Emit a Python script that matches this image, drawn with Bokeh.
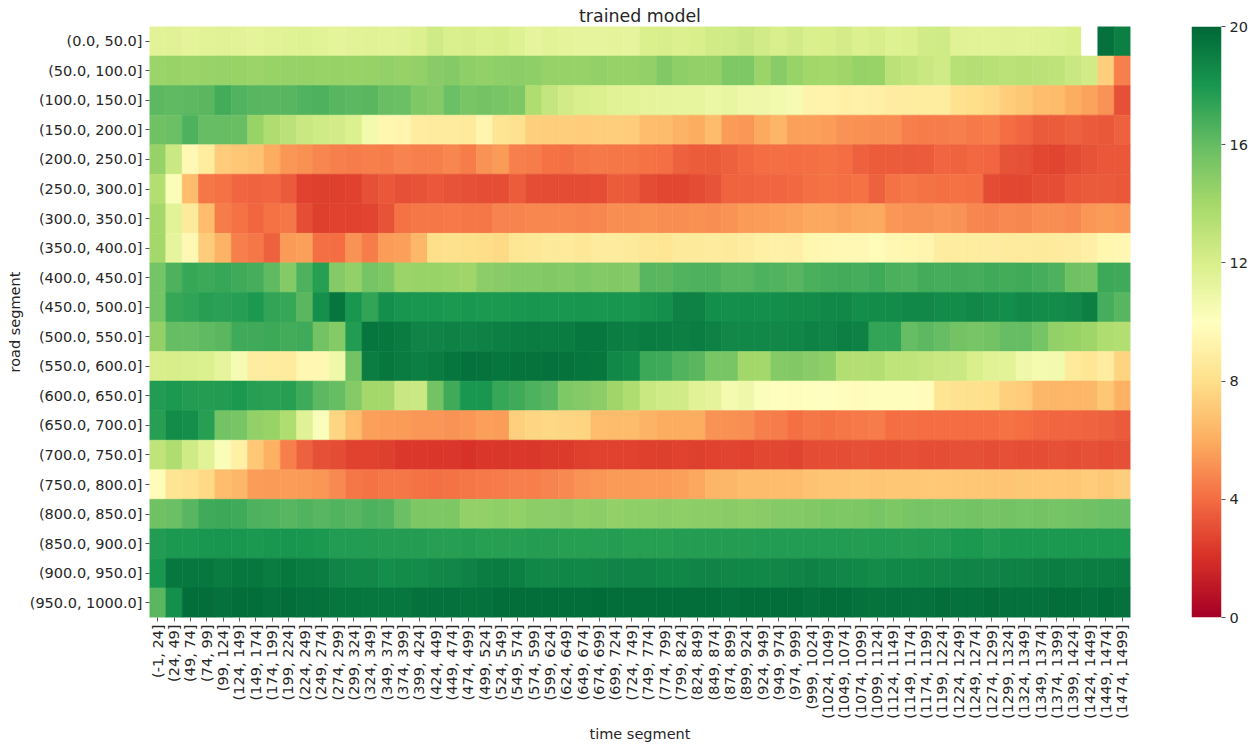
import math
import numpy as np
from bokeh.plotting import figure
from bokeh.layouts import row
from bokeh.models import ColumnDataSource, LinearColorMapper, FixedTicker
from bokeh.transform import transform
from bokeh.embed import file_html
from bokeh.resources import INLINE

# Row categories (road segments) and column categories (time segments)
road_segments = [f"({lo:.1f}, {lo + 50:.1f}]" for lo in range(0, 1000, 50)]
time_segments = [f"({lo}, {lo + 25}]" for lo in range(-1, 1475, 25)]

colorbar_ticks = [0, 4, 8, 12, 16, 20]

# Mean speed per time segment, one list per road segment
seg_0_50 = [11.5, 11.6, 11.4, 11.5, 11.6, 11.5, 11.4, 11.5, 11.6, 11.7, 11.5, 11.4, 11.5, 11.6, 11.5, 11.6, 11.8, 12.4, 11.9, 12.1,
            11.8, 12.0, 11.7, 11.3, 11.5, 11.4, 11.3, 11.3, 11.4, 11.3, 11.9, 12.1, 11.8, 12.0, 12.3, 12.4, 12.6, 12.3, 12.0, 12.3,
            11.9, 12.0, 12.2, 11.8, 12.1, 11.7, 11.8, 12.3, 12.4, 11.6, 11.5, 11.5, 11.6, 11.5, 11.6, 11.7, 11.9, float("nan"), 19.6, 19.0]
seg_50_100 = [14.3, 14.4, 14.3, 14.4, 14.5, 14.4, 14.3, 14.4, 14.5, 14.5, 14.4, 14.5, 14.4, 14.5, 14.6, 14.5, 14.6, 14.9, 15.0, 14.7,
              14.6, 14.7, 14.8, 14.7, 14.5, 14.5, 14.5, 14.6, 14.5, 14.5, 14.6, 15.1, 14.7, 14.6, 14.6, 15.2, 15.2, 14.3, 14.9, 14.4,
              14.1, 14.0, 14.2, 14.5, 14.4, 13.2, 12.9, 12.6, 12.4, 13.3, 13.4, 13.3, 13.2, 13.3, 13.2, 13.1, 12.6, 12.3, 7.3, 4.6]
seg_100_150 = [16.2, 16.1, 16.2, 16.3, 16.9, 16.5, 16.4, 16.3, 16.4, 16.5, 16.6, 16.4, 16.2, 16.3, 15.9, 15.8, 15.2, 15.0, 15.8, 15.4,
               15.6, 15.4, 15.3, 13.6, 12.8, 12.3, 12.0, 11.8, 11.6, 11.5, 11.4, 11.3, 11.2, 11.2, 11.0, 11.1, 10.9, 10.8, 10.7, 10.5,
               9.2, 9.2, 9.0, 9.1, 9.0, 8.9, 8.9, 8.8, 8.8, 8.2, 8.0, 7.8, 7.3, 7.0, 6.6, 6.5, 6.0, 5.7, 5.2, 3.1]
seg_150_200 = [15.7, 15.8, 16.6, 16.0, 16.0, 15.9, 14.4, 13.6, 13.2, 12.6, 12.4, 12.2, 11.8, 10.7, 9.4, 9.3, 8.9, 8.7, 8.7, 8.6,
               9.3, 8.3, 8.2, 7.4, 7.3, 7.3, 7.2, 7.3, 7.3, 7.2, 6.6, 6.5, 6.2, 6.0, 6.5, 5.4, 5.3, 5.9, 6.3, 5.6,
               5.6, 5.5, 5.2, 5.1, 5.0, 5.0, 4.6, 4.5, 4.5, 4.6, 4.4, 4.5, 4.0, 3.8, 3.4, 3.5, 3.6, 3.4, 3.3, 3.6]
seg_200_250 = [14.5, 12.5, 9.6, 8.8, 7.2, 7.0, 6.8, 6.0, 5.3, 5.1, 4.8, 4.6, 4.5, 4.6, 4.5, 4.7, 4.6, 4.6, 4.8, 4.5,
               5.2, 5.4, 4.6, 4.5, 4.2, 4.1, 4.3, 4.4, 4.3, 4.3, 4.2, 4.1, 3.6, 3.5, 3.5, 3.6, 3.9, 4.0, 4.1, 4.0,
               4.1, 4.2, 4.0, 3.6, 3.5, 3.5, 3.4, 3.5, 3.8, 3.7, 3.9, 3.8, 3.2, 3.1, 2.8, 2.7, 2.9, 3.2, 3.3, 3.3]
seg_250_300 = [13.5, 10.3, 6.6, 4.3, 4.2, 3.8, 3.7, 3.8, 3.4, 2.6, 2.5, 2.5, 2.6, 3.1, 3.3, 3.1, 3.2, 3.3, 3.2, 3.1,
               3.0, 3.0, 3.5, 3.0, 2.9, 2.9, 2.9, 3.0, 3.5, 3.4, 2.9, 2.8, 2.8, 2.9, 3.2, 3.7, 3.7, 3.8, 3.8, 3.9,
               4.1, 4.2, 4.1, 4.2, 3.6, 4.2, 4.3, 4.2, 4.1, 4.2, 4.1, 2.9, 2.8, 2.8, 3.0, 3.0, 3.3, 3.4, 3.4, 3.3]
seg_300_350 = [14.0, 11.5, 8.6, 6.6, 4.5, 4.2, 3.8, 4.2, 4.3, 3.0, 2.5, 2.6, 2.6, 2.7, 3.2, 4.2, 4.3, 4.3, 4.4, 4.3,
               4.3, 4.7, 4.7, 4.8, 4.8, 4.8, 4.7, 4.8, 5.0, 5.0, 5.1, 5.0, 5.0, 5.1, 5.0, 5.2, 5.4, 5.5, 5.6, 5.7,
               5.8, 5.8, 5.7, 5.8, 5.9, 5.3, 5.2, 5.2, 5.3, 5.2, 4.8, 4.7, 4.9, 4.8, 5.0, 5.0, 4.9, 5.3, 5.4, 5.3]
seg_350_400 = [14.0, 11.3, 9.6, 7.2, 6.2, 4.6, 4.3, 3.6, 5.4, 5.6, 4.1, 4.0, 5.2, 4.5, 5.5, 5.6, 6.4, 8.0, 8.1, 8.0,
               7.9, 7.8, 8.4, 8.5, 8.6, 8.6, 8.5, 8.7, 8.7, 8.6, 8.5, 8.4, 8.6, 8.6, 8.7, 8.6, 8.9, 9.0, 9.1, 9.0,
               9.4, 9.5, 9.6, 9.6, 9.7, 9.5, 9.4, 9.3, 8.9, 8.8, 8.8, 8.9, 8.7, 8.7, 8.6, 8.7, 8.9, 9.0, 9.4, 9.5]
seg_400_450 = [15.5, 16.6, 17.2, 17.1, 17.2, 17.0, 16.8, 16.1, 15.0, 16.6, 17.6, 15.0, 14.6, 15.5, 15.3, 14.3, 14.4, 14.4, 14.3, 14.2,
               14.8, 14.9, 15.0, 15.0, 15.1, 15.0, 15.2, 15.0, 15.1, 15.0, 16.4, 16.3, 16.5, 16.6, 16.6, 16.4, 16.4, 16.6, 16.5, 16.4,
               16.7, 16.8, 16.9, 16.8, 17.0, 16.7, 16.6, 16.9, 16.8, 16.9, 16.8, 17.0, 16.9, 17.0, 16.8, 16.6, 15.7, 15.6, 17.1, 17.0]
seg_450_500 = [15.5, 17.2, 17.4, 17.6, 17.5, 17.6, 17.9, 17.3, 17.2, 16.3, 18.3, 19.4, 18.0, 17.3, 18.3, 18.1, 18.0, 18.0, 17.9, 18.0,
               17.9, 17.9, 18.0, 18.1, 18.0, 18.0, 18.1, 18.0, 18.1, 18.0, 18.2, 18.3, 18.9, 18.9, 18.4, 18.3, 18.4, 18.3, 18.4, 18.5,
               18.5, 18.6, 18.6, 18.4, 18.5, 18.5, 18.6, 18.6, 18.5, 18.5, 18.6, 18.5, 18.4, 18.6, 18.5, 18.5, 18.6, 19.0, 16.8, 16.4]
seg_500_550 = [14.6, 16.0, 16.0, 16.1, 16.3, 17.0, 17.0, 17.1, 16.9, 17.0, 15.6, 15.0, 17.8, 19.4, 19.3, 19.2, 18.8, 18.8, 18.9, 18.8,
               18.9, 19.0, 19.1, 19.2, 19.1, 19.2, 19.3, 19.3, 19.1, 19.0, 19.2, 19.1, 19.0, 19.1, 18.9, 18.6, 18.6, 18.6, 18.6, 18.7,
               18.9, 18.8, 19.0, 18.9, 17.3, 17.4, 16.0, 16.2, 16.0, 15.6, 15.4, 15.6, 16.0, 16.0, 15.5, 14.6, 14.4, 14.2, 13.6, 13.5]
seg_550_600 = [12.0, 12.1, 12.0, 11.8, 11.3, 10.5, 8.9, 8.8, 8.7, 9.5, 9.6, 10.9, 15.6, 19.1, 19.3, 19.2, 19.0, 19.2, 19.4, 19.6,
               19.5, 19.4, 19.5, 19.5, 19.6, 19.5, 19.4, 19.3, 18.6, 18.5, 17.1, 17.0, 16.5, 16.3, 15.4, 15.4, 14.1, 14.0, 15.0, 15.1,
               14.9, 14.7, 13.5, 13.4, 13.5, 13.0, 13.0, 12.8, 12.6, 12.5, 12.0, 11.6, 11.5, 10.8, 10.6, 10.7, 8.6, 8.4, 8.9, 7.5]
seg_600_650 = [17.8, 17.9, 17.8, 17.7, 17.8, 17.9, 17.6, 17.5, 17.6, 17.0, 16.2, 16.0, 15.0, 14.0, 14.0, 12.6, 12.5, 15.6, 17.0, 18.0,
               18.0, 17.2, 17.0, 16.6, 16.4, 15.2, 15.0, 14.8, 14.2, 13.6, 12.6, 12.4, 12.3, 11.6, 11.4, 10.6, 10.8, 10.2, 10.0, 9.9,
               10.0, 10.0, 9.9, 9.8, 9.9, 9.9, 9.9, 9.8, 8.3, 8.2, 8.1, 8.0, 7.4, 7.2, 6.4, 6.3, 6.3, 6.4, 7.0, 6.1]
seg_650_700 = [17.6, 18.5, 18.4, 17.6, 15.6, 15.4, 14.6, 14.4, 13.6, 11.6, 10.2, 7.6, 6.6, 5.6, 5.5, 5.4, 5.3, 5.3, 5.2, 5.3,
               5.6, 5.5, 7.4, 7.6, 7.7, 7.6, 7.5, 6.6, 6.5, 6.5, 6.2, 6.0, 6.0, 6.0, 5.2, 5.1, 5.0, 4.6, 4.5, 4.1,
               4.3, 4.2, 4.3, 4.4, 4.5, 4.0, 4.1, 4.0, 4.0, 4.0, 4.0, 4.0, 4.2, 4.0, 3.9, 3.8, 3.8, 3.7, 3.6, 3.4]
seg_700_750 = [13.0, 13.6, 12.4, 11.5, 10.3, 9.0, 7.1, 6.1, 4.6, 3.6, 3.1, 2.9, 2.6, 2.6, 2.5, 2.3, 2.3, 2.2, 2.2, 2.1,
               2.2, 2.2, 2.3, 2.2, 2.4, 2.4, 2.5, 2.6, 2.6, 2.6, 2.5, 2.5, 2.6, 2.5, 2.6, 2.7, 2.6, 2.8, 2.8, 2.7,
               2.9, 3.0, 3.0, 3.1, 3.0, 3.0, 3.1, 3.0, 3.0, 3.1, 3.1, 3.0, 3.1, 3.0, 3.0, 3.1, 3.0, 3.1, 3.0, 3.1]
seg_750_800 = [9.8, 8.3, 8.2, 7.8, 6.6, 6.4, 5.5, 5.4, 5.5, 5.4, 5.3, 4.9, 4.3, 4.2, 4.3, 4.3, 4.2, 4.1, 4.2, 4.3,
               4.4, 4.5, 4.6, 4.6, 4.7, 4.9, 5.2, 5.3, 5.4, 5.4, 5.5, 5.5, 5.6, 5.8, 6.3, 6.4, 6.5, 6.5, 6.6, 6.6,
               6.8, 6.9, 6.9, 7.0, 6.9, 7.0, 7.0, 7.1, 7.1, 7.0, 7.0, 6.9, 6.9, 7.0, 7.1, 7.1, 7.0, 7.2, 7.1, 7.3]
seg_800_850 = [15.7, 15.8, 16.4, 17.0, 17.1, 17.0, 16.6, 16.5, 16.4, 16.5, 16.4, 16.5, 16.4, 16.6, 16.5, 15.8, 15.3, 15.2, 15.3, 14.6,
               14.6, 14.7, 14.6, 14.8, 14.8, 14.9, 14.7, 14.8, 14.6, 14.7, 14.7, 14.8, 14.7, 14.8, 14.8, 14.9, 14.8, 14.9, 15.0, 15.0,
               15.1, 15.3, 15.2, 15.3, 15.4, 15.3, 15.4, 15.5, 15.4, 15.5, 15.6, 15.5, 15.6, 15.5, 15.6, 15.5, 15.6, 15.7, 15.8, 15.8]
seg_850_900 = [17.8, 17.9, 17.9, 18.0, 18.1, 18.0, 17.9, 18.0, 18.1, 18.0, 17.9, 17.8, 17.8, 17.8, 17.7, 17.7, 17.7, 17.6, 17.6, 17.7,
               17.6, 17.6, 17.6, 17.7, 17.7, 17.6, 17.6, 17.6, 17.7, 17.6, 17.6, 17.6, 17.7, 17.7, 17.7, 17.7, 17.7, 17.8, 17.8, 17.8,
               17.8, 17.8, 17.8, 17.7, 17.8, 17.8, 17.7, 17.8, 17.8, 17.9, 17.9, 17.8, 17.9, 17.9, 17.9, 17.9, 17.9, 17.9, 17.9, 17.9]
seg_900_950 = [18.0, 19.3, 19.3, 19.3, 19.2, 19.3, 19.3, 19.2, 19.3, 19.2, 19.1, 18.8, 18.6, 18.6, 18.4, 18.5, 18.5, 18.6, 18.7, 18.9,
               19.1, 19.2, 19.0, 18.7, 18.6, 18.7, 18.6, 18.7, 18.8, 18.8, 18.8, 18.7, 18.7, 18.8, 18.8, 18.7, 18.7, 18.6, 18.7, 18.8,
               18.9, 18.8, 18.7, 18.6, 18.5, 18.6, 18.6, 18.7, 18.7, 18.8, 18.8, 18.8, 18.9, 18.9, 19.0, 19.1, 19.0, 19.1, 19.1, 19.2]
seg_950_1000 = [16.3, 18.3, 19.7, 19.7, 19.6, 19.7, 19.7, 19.6, 19.7, 19.6, 19.6, 19.4, 19.4, 19.3, 19.3, 19.3, 19.6, 19.6, 19.6, 19.5,
                19.6, 19.7, 19.7, 19.7, 19.7, 19.7, 19.7, 19.8, 19.7, 19.7, 19.7, 19.7, 19.7, 19.7, 19.7, 19.6, 19.7, 19.7, 19.7, 19.7,
                19.6, 19.7, 19.7, 19.6, 19.5, 19.6, 19.6, 19.6, 19.7, 19.6, 19.6, 19.7, 19.6, 19.6, 19.6, 19.7, 19.7, 19.6, 19.7, 19.6]

rows = [seg_0_50, seg_50_100, seg_100_150, seg_150_200, seg_200_250, seg_250_300, seg_300_350,
        seg_350_400, seg_400_450, seg_450_500, seg_500_550, seg_550_600, seg_600_650, seg_650_700,
        seg_700_750, seg_750_800, seg_800_850, seg_850_900, seg_900_950, seg_950_1000]

# Long-form table for the rect glyphs
xs, ys, vals = [], [], []
for road, speeds in zip(road_segments, rows):
    for t, v in zip(time_segments, speeds):
        xs.append(t)
        ys.append(road)
        vals.append(v)
source = ColumnDataSource(dict(time=xs, road=ys, speed=vals))

# Smooth red-yellow-green palette (low = red, high = green)
anchors = ["#a50026", "#d73027", "#f46d43", "#fdae61", "#fee08b", "#ffffbf",
           "#d9ef8b", "#a6d96a", "#66bd63", "#1a9850", "#006837"]
rgb = np.array([[int(h[i:i + 2], 16) for i in (1, 3, 5)] for h in anchors], dtype=float)
pos = np.linspace(0, 1, len(anchors))
grid = np.linspace(0, 1, 256)
palette = ["#%02x%02x%02x" % tuple(int(round(np.interp(g, pos, rgb[:, c]))) for c in range(3)) for g in grid]

VMIN, VMAX = 0, 20
mapper = LinearColorMapper(palette=palette, low=VMIN, high=VMAX, nan_color="white")

FONT = "DejaVu Sans"
TXT = "#262626"
TICK = "#555555"

# ---- heatmap ----
p = figure(
    x_range=time_segments,
    y_range=list(reversed(road_segments)),
    width=1170, height=744,
    output_backend="svg", toolbar_location=None,
    min_border_left=149, min_border_right=40,
    min_border_top=26, min_border_bottom=122,
    title="trained model",
)
p.title.align = "center"
p.title.text_font = FONT
p.title.text_font_size = "17.4px"
p.title.text_font_style = "normal"
p.title.text_color = TXT
p.title.standoff = 2
p.title.offset = 0

p.rect(x="time", y="road", width=1.0, height=1.0, source=source,
       fill_color=transform("speed", mapper), line_color=transform("speed", mapper), line_width=0.6)

p.outline_line_color = None
p.grid.grid_line_color = None
p.background_fill_color = "white"
p.border_fill_color = "white"

for ax in (p.xaxis[0], p.yaxis[0]):
    ax.axis_line_color = None
    ax.major_tick_in = 0
    ax.major_tick_out = 4
    ax.major_tick_line_color = TICK
    ax.minor_tick_line_color = None
    ax.major_label_text_font = FONT
    ax.major_label_text_font_size = "14.5px"
    ax.major_label_text_color = TXT
    ax.major_label_standoff = 3
    ax.axis_label_text_font = FONT
    ax.axis_label_text_font_size = "14.5px"
    ax.axis_label_text_font_style = "normal"
    ax.axis_label_text_color = TXT
    ax.axis_label_standoff = 4

p.xaxis.axis_label = "time segment"
p.yaxis.axis_label = "road segment"
p.xaxis.major_label_orientation = math.pi / 2

# ---- colour bar: a smooth gradient image through the same mapper ----
gradient = np.linspace(VMIN, VMAX, 512).reshape(-1, 1)

cb = figure(
    width=85, height=744, x_range=(0, 1), y_range=(VMIN, VMAX),
    output_backend="svg", toolbar_location=None,
    y_axis_location="right",
    min_border_left=21, min_border_right=34,
    min_border_top=26, min_border_bottom=122,
)
cb.image(image=[gradient], x=0, y=VMIN, dw=1, dh=VMAX - VMIN, color_mapper=mapper)
cb.xaxis.visible = False
cb.grid.grid_line_color = None
cb.outline_line_color = None
cb.border_fill_color = "white"
cb.yaxis.ticker = FixedTicker(ticks=colorbar_ticks)
cb.yaxis.axis_line_color = None
cb.yaxis.major_tick_in = 0
cb.yaxis.major_tick_out = 4
cb.yaxis.major_tick_line_color = TICK
cb.yaxis.minor_tick_line_color = None
cb.yaxis.major_label_text_font = FONT
cb.yaxis.major_label_text_font_size = "14.5px"
cb.yaxis.major_label_text_color = TXT
cb.yaxis.major_label_standoff = 4

layout = row(p, cb, spacing=0)
open("out.html", "w").write(file_html(layout, INLINE))
